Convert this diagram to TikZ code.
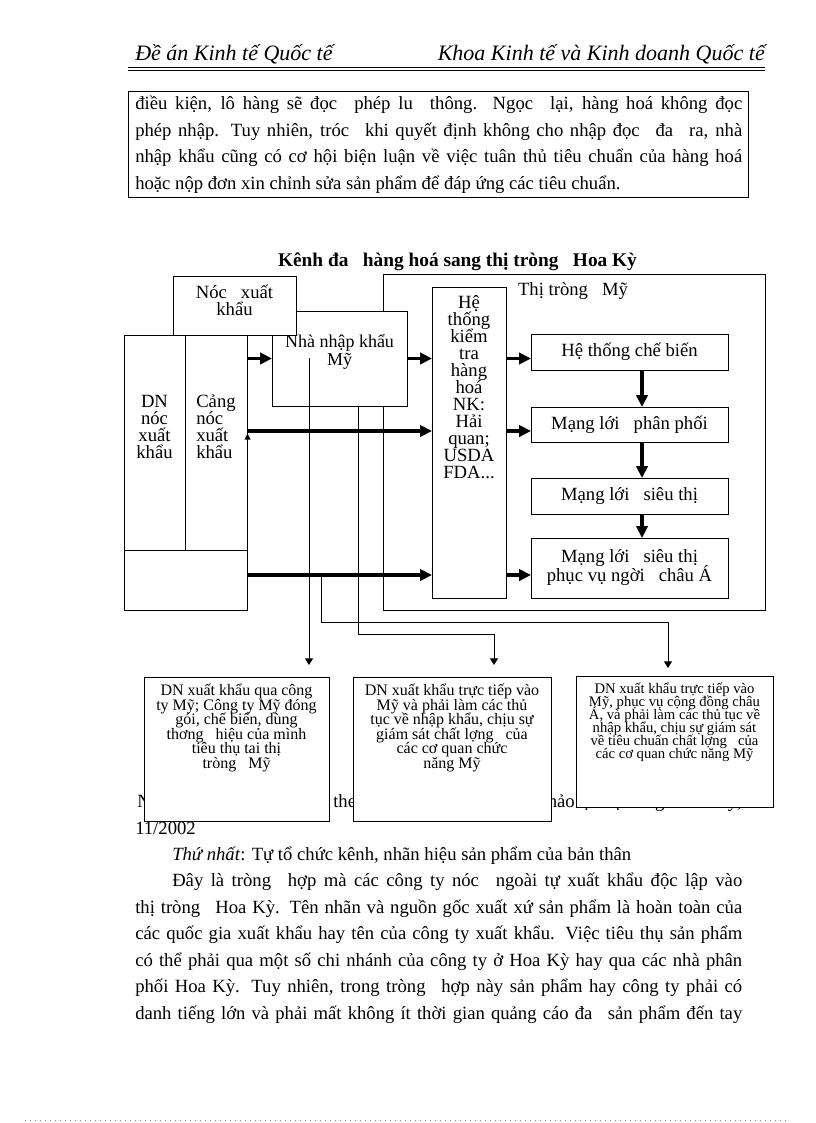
\documentclass[tikz,border=0pt]{standalone}
\usepackage{fontspec}
\setmainfont{Liberation Serif}
\usetikzlibrary{arrows.meta}
\newcommand{\gapw}{\hspace{0.5em}}
\newcommand{\bodyf}{\fontsize{14pt}{17pt}\selectfont}
\newcommand{\tls}{\lineskiplimit=-20pt\relax}
\begin{document}
\begin{tikzpicture}[x=0.75pt,y=-0.75pt,
  bx/.style={draw,line width=0.75pt,fill=white,inner sep=0pt,outer sep=0pt,anchor=north west},
  thk/.style={line width=2.6pt,-{Triangle[length=9pt,width=8.5pt]}},
  thn/.style={line width=0.75pt,-{Triangle[length=5pt,width=6pt]}},
  ln/.style={line width=0.75pt},
  bt/.style={anchor=base west,inner sep=0pt,font=\bodyf},
  dg/.style={inner sep=0pt,align=center,font={\fontsize{14pt}{12.8pt}\selectfont\tls}},
  sm/.style={inner sep=0pt,align=center,font={\fontsize{12pt}{10.9pt}\selectfont\tls}},
  xs/.style={inner sep=0pt,align=center,font={\fontsize{11pt}{9.75pt}\selectfont\tls}}]
\useasboundingbox (0,0) rectangle (816,1123);
\fill[white] (0,0) rectangle (816,1123);

% header
\node[anchor=base west,inner sep=0pt,font={\fontsize{16.5pt}{18pt}\selectfont\itshape}] (h1) at (135,61) {Đề án Kinh tế Quốc tế};
\node[anchor=base east,inner sep=0pt,font={\fontsize{16.5pt}{18pt}\selectfont\itshape}] (h2) at (765,61) {Khoa Kinh tế và Kinh doanh Quốc tế};
\draw[ln] (128,68) -- (765,68);
\draw[ln] (128,71) -- (765,71);

% top paragraph
\node[bx,minimum width={620*0.75pt},minimum height={106*0.75pt}] (para) at (128,92) {};
\node[bt] (p1) at (135,110) {\makebox[455.25pt][s]{điều kiện, lô hàng sẽ đọc\gapw{} phép lu\gapw{} thông. Ngọc\gapw{} lại, hàng hoá không đọc}};
\node[bt] (p2) at (135,136.5) {\makebox[455.25pt][s]{phép nhập. Tuy nhiên, tróc\gapw{} khi quyết định không cho nhập đọc\gapw{} đa\gapw{} ra, nhà}};
\node[bt] (p3) at (135,163) {\makebox[455.25pt][s]{nhập khẩu cũng có cơ hội biện luận về việc tuân thủ tiêu chuẩn của hàng hoá}};
\node[bt] (p4) at (135,189.5) {hoặc nộp đơn xin chỉnh sửa sản phẩm để đáp ứng các tiêu chuẩn.};

% title
\node[anchor=base,inner sep=0pt,font={\fontsize{14.5pt}{17pt}\selectfont\bfseries}] (title) at (457.5,266) {Kênh đa\gapw{} hàng hoá sang thị tròng\gapw{} Hoa Kỳ};

% boxes of the diagram
\node[bx,minimum width={382*0.75pt},minimum height={336*0.75pt}] (tt) at (383,274) {};
\node[dg,anchor=center] (ttl) at (573,291) {Thị tròng\gapw{} Mỹ};
\node[bx,minimum width={123*0.75pt},minimum height={275*0.75pt}] (lb) at (124,335) {};
\draw[ln] (185,335) -- (185,550);
\draw[ln] (124,550) -- (247,550);
\node[dg] (lbt1) at (154.5,427) {DN\\nóc\\xuất\\khẩu};
\node[dg,anchor=west,align=left] (lbt2) at (196,427) {Cảng\\nóc\\xuất\\khẩu};
\node[bx,minimum width={135*0.75pt},minimum height={95*0.75pt}] (nk) at (272,311) {};
\node[inner sep=0pt,align=center,font={\fontsize{13.5pt}{13pt}\selectfont\tls}] (nkt) at (339.5,352) {Nhà nhập khẩu\\Mỹ};
\node[bx,minimum width={123*0.75pt},minimum height={59*0.75pt}] (nx) at (173,276) {};
\node[dg] (nxt) at (234.5,300.5) {Nóc\gapw{} xuất\\khẩu};
\node[bx,minimum width={74*0.75pt},minimum height={311*0.75pt}] (ht) at (432,287) {};
\node[dg] (htt) at (469,387) {Hệ\\thống\\kiểm\\tra\\hàng\\hoá\\NK:\\Hải\\quan;\\USDA\\FDA...};
\node[bx,minimum width={197*0.75pt},minimum height={36*0.75pt}] (cb) at (531,334) {};
\node[dg] at (cb.center) (cbt) {Hệ thống chế biến};
\node[bx,minimum width={197*0.75pt},minimum height={35*0.75pt}] (pp) at (531,407) {};
\node[dg] at (pp.center) (ppt) {Mạng lới\gapw{} phân phối};
\node[bx,minimum width={197*0.75pt},minimum height={36*0.75pt}] (st) at (531,478) {};
\node[dg] at (st.center) (stt) {Mạng lới\gapw{} siêu thị};
\node[bx,minimum width={197*0.75pt},minimum height={60*0.75pt}] (sa) at (531,538) {};
\node[inner sep=0pt,align=center,font={\fontsize{14pt}{14.25pt}\selectfont\tls}] at (sa.center) (sat) {Mạng lới\gapw{} siêu thị\\phục vụ ngời\gapw{} châu Á};

% thick arrows
\coordinate (r2) at (247,431);
\coordinate (r3) at (247,575);
\coordinate (vx) at (642,0);
\draw[thk] (lb.east |- nk.west) -- (nk.west);
\draw[thk] (nk.east) -- (ht.west |- nk.east);
\draw[thk] (ht.east |- nk.east) -- (cb.west |- nk.east);
\draw[thk] (r2) -- (ht.west |- r2);
\draw[thk] (ht.east |- r2) -- (pp.west |- r2);
\draw[thk] (r3) -- (ht.west |- r3);
\draw[thk] (ht.east |- r3) -- (sa.west |- r3);
\draw[thk] (cb.south -| vx) -- (pp.north -| vx);
\draw[thk] (pp.south -| vx) -- (st.north -| vx);
\draw[thk] (st.south -| vx) -- (sa.north -| vx);
\fill (244.5,439.5) -- (250.5,439.5) -- (247.5,433.5) -- cycle;

% caption line (partly hidden by the boxes)
\node[bt] (c1) at (137,807) {Nguồn:};
\node[bt] (c2) at (333,807) {theo tài liệu};
\node[bt,anchor=base east] (c3) at (575,807) {tham khảo};
\node[bt,anchor=base east] (c4) at (742,807) {tại thị tròng\gapw{} Hoa Kỳ,};
\node[bt] (c5) at (135,834) {11/2002};

% bottom boxes
\node[bx,minimum width={185*0.75pt},minimum height={144*0.75pt}] (b1) at (144,677) {};
\node[bx,minimum width={198*0.75pt},minimum height={144*0.75pt}] (b2) at (353,677) {};
\node[bx,minimum width={197*0.75pt},minimum height={131*0.75pt}] (b3) at (576,676) {};
\node[sm] (b1t) at (236.5,728) {DN xuất khẩu qua công\\ty Mỹ; Công ty Mỹ đóng\\gói, chế biến, dùng\\thơng\gapw{} hiệu của mình\\tiêu thụ tai thị\\tròng\gapw{} Mỹ};
\node[sm] (b2t) at (452,728) {DN xuất khẩu trực tiếp vào\\Mỹ và phải làm các thủ\\tục về nhập khẩu, chịu sự\\giám sát chất lợng\gapw{} của\\các cơ quan chức\\năng Mỹ};
\node[xs] (b3t) at (674.5,722.5) {DN xuất khẩu trực tiếp vào\\Mỹ, phục vụ cộng đồng châu\\Á, và phải làm các thủ tục về\\nhập khẩu, chịu sự giám sát\\về tiêu chuẩn chất lợng\gapw{} của\\các cơ quan chức năng Mỹ};

% thin connectors
\coordinate (a1s) at (309,358);
\coordinate (a2x) at (358,634);
\coordinate (a2y) at (494,634);
\coordinate (a3s) at (321,575);
\coordinate (a3x) at (321,622);
\coordinate (a3y) at (668,622);
\draw[thn,shorten >=9pt] (a1s) -- (a1s |- b1.north);
\draw[thn,shorten >=9pt] (nk.south -| a2x) -- (a2x) -- (a2y) -- (a2y |- b2.north);
\draw[thn,shorten >=6pt] (a3s) -- (a3x) -- (a3y) -- (a3y |- b3.north);

% body text
\node[bt] (t1) at (172,860) {\textit{Thứ nhất}: Tự tổ chức kênh, nhãn hiệu sản phẩm của bản thân};
\node[bt] (t2) at (172,886.5) {\makebox[427.5pt][s]{Đây là tròng\gapw{} hợp mà các công ty nóc\gapw{} ngoài tự xuất khẩu độc lập vào}};
\node[bt] (t3) at (135,913) {\makebox[455.25pt][s]{thị tròng\gapw{} Hoa Kỳ. Tên nhãn và nguồn gốc xuất xứ sản phẩm là hoàn toàn của}};
\node[bt] (t4) at (135,939.5) {\makebox[455.25pt][s]{các quốc gia xuất khẩu hay tên của công ty xuất khẩu. Việc tiêu thụ sản phẩm}};
\node[bt] (t5) at (135,966) {\makebox[455.25pt][s]{có thể phải qua một số chi nhánh của công ty ở Hoa Kỳ hay qua các nhà phân}};
\node[bt] (t6) at (135,992.5) {\makebox[455.25pt][s]{phối Hoa Kỳ. Tuy nhiên, trong tròng\gapw{} hợp này sản phẩm hay công ty phải có}};
\node[bt] (t7) at (135,1019) {\makebox[455.25pt][s]{danh tiếng lớn và phải mất không ít thời gian quảng cáo đa\gapw{} sản phẩm đến tay}};

% dotted line at the foot
\draw[gray,line width=0.75pt,dash pattern=on 0.75pt off 3pt] (25,1120) -- (790,1120);
\end{tikzpicture}
\end{document}
